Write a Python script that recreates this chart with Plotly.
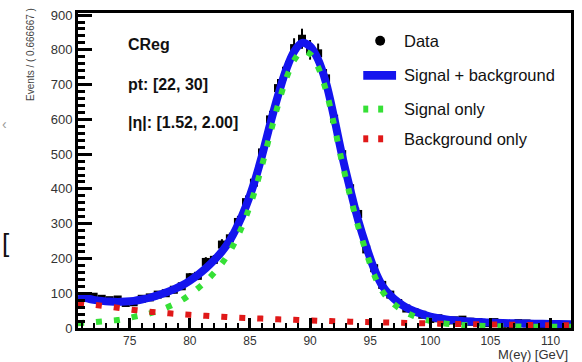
import numpy as np
import plotly.graph_objects as go

# ---- data (bin centres, 0.666667 GeV bins) ----
mass = [71.33, 72.00, 72.67, 73.33, 74.00, 74.67, 75.33, 76.00, 76.67, 77.33,
        78.00, 78.67, 79.33, 80.00, 80.67, 81.33, 82.00, 82.67, 83.33, 84.00,
        84.67, 85.33, 86.00, 86.67, 87.33, 88.00, 88.67, 89.33, 90.00, 90.67,
        91.33, 92.00, 92.67, 93.33, 94.00, 94.67, 95.33, 96.00, 96.67, 97.33,
        98.00, 98.67, 99.33, 100.00, 100.67, 101.33, 102.00, 102.67, 103.33, 104.00,
        104.67, 105.33, 106.00, 106.67, 107.33, 108.00, 108.67, 109.33, 110.00, 110.67]
events = [92, 90, 84, 80, 82, 72, 74, 84, 88, 96,
          100, 110, 120, 146, 150, 190, 196, 240, 258, 305,
          362, 418, 505, 600, 690, 740, 805, 832, 800, 790,
          718, 602, 500, 402, 328, 226, 172, 124, 96, 72,
          56, 46, 38, 26, 28, 21, 22, 24, 18, 17,
          14, 17, 12, 11, 14, 13, 9, 11, 10, 8]

# ---- fitted curves ----
fit_mass = [70.7] + mass + [111.7]
sig_plus_bkg = [88, 86, 81, 78, 76, 75, 76, 78, 82, 87, 94,
                102, 111, 122, 136, 153, 172, 194, 220, 252, 296,
                350, 415, 495, 585, 668, 742, 795, 820, 810, 772,
                705, 605, 495, 400, 310, 235, 170, 122, 94, 74,
                59, 48, 40, 33, 28, 24.5, 22, 20, 18.5, 17,
                16, 15.2, 14.5, 13.9, 13.3, 12.8, 12.4, 12, 11.6, 11.3, 11]
sig_only = [14, 15, 17, 19, 21, 23, 27, 32, 37, 42, 49,
            58, 68, 80, 96, 114, 134, 158, 186, 220, 265,
            320, 386, 467, 557, 641, 716, 770, 796, 788, 750,
            683, 584, 475, 381, 292, 218, 153, 106, 78, 59,
            44, 34, 26, 20, 15.5, 12.5, 10, 8.5, 7.5, 6.5,
            5.8, 5.2, 4.8, 4.5, 4.2, 4, 3.8, 3.6, 3.5, 3.4, 3.3]
bkg_only = [72, 70, 67, 64, 61, 58, 55, 52, 49.5, 47, 45,
            43, 41, 39.5, 38, 36.5, 35, 33.5, 32.5, 31, 30,
            29, 28, 27, 26, 25, 24.5, 23.5, 22.5, 22, 21,
            20.5, 19.5, 19, 18, 17.5, 17, 16.5, 16, 15.5, 15,
            14.5, 14, 13.5, 13, 12.5, 12, 11.7, 11.3, 11, 10.6,
            10.3, 10, 9.7, 9.4, 9.1, 8.8, 8.6, 8.3, 8.1, 7.9, 7.6]

labels = ["CReg", "pt: [22, 30]", "|η|: [1.52, 2.00]"]
legend_names = ["Data", "Signal + background", "Signal only", "Background only"]

BLUE = "#1414ee"
GREEN = "#36e036"
RED = "#e01818"
FONT = "Liberation Sans, Arial, sans-serif"

W, H = 582, 362
L, R, T, B = 78, 8, 10, 34
pw, ph = W - L - R, H - T - B


def px(xp):
    return (xp - L) / pw


def py(yp):
    return (H - B - yp) / ph


fig = go.Figure()
fig.add_trace(go.Scatter(
    x=mass, y=events, mode="markers",
    marker=dict(symbol="square", size=8, color="black"),
    error_y=dict(type="data", array=np.sqrt(events), thickness=2, width=0, color="black"),
    showlegend=False))
fig.add_trace(go.Scatter(x=fit_mass, y=sig_plus_bkg, mode="lines", line_shape="spline",
                         line=dict(color=BLUE, width=8), showlegend=False))
fig.add_trace(go.Scatter(x=fit_mass, y=sig_only, mode="lines", line_shape="spline",
                         line=dict(color=GREEN, width=6, dash="6px,12px"), showlegend=False))
fig.add_trace(go.Scatter(x=fit_mass, y=bkg_only, mode="lines", line_shape="spline",
                         line=dict(color=RED, width=6, dash="6px,12px"), showlegend=False))

annotations = []
shapes = []
# region labels
for txt, yc in zip(labels, [42, 82, 121]):
    annotations.append(dict(text="<b>%s</b>" % txt, xref="paper", yref="paper",
                            x=px(126), y=py(yc), xanchor="left", yanchor="middle",
                            showarrow=False, font=dict(family=FONT, size=16, color="#111")))
# legend
leg_y = [38, 73, 107, 137]
for name, yc in zip(legend_names, leg_y):
    annotations.append(dict(text=name, xref="paper", yref="paper",
                            x=px(404), y=py(yc), xanchor="left", yanchor="middle",
                            showarrow=False, font=dict(family=FONT, size=16.5, color="#111")))
shapes.append(dict(type="circle", xref="paper", yref="paper",
                   x0=px(377), x1=px(387), y0=py(leg_y[0] + 5), y1=py(leg_y[0] - 5),
                   fillcolor="black", line=dict(width=0)))
shapes.append(dict(type="rect", xref="paper", yref="paper",
                   x0=px(365), x1=px(398), y0=py(leg_y[1] + 4.5), y1=py(leg_y[1] - 4.5),
                   fillcolor=BLUE, line=dict(width=0)))
for col, yc in [(GREEN, leg_y[2]), (RED, leg_y[3])]:
    for x0 in (365, 380):
        shapes.append(dict(type="rect", xref="paper", yref="paper",
                           x0=px(x0), x1=px(x0 + 5), y0=py(yc + 3.5), y1=py(yc - 3.5),
                           fillcolor=col, line=dict(width=0)))

# axis titles
annotations.append(dict(text="M(eγ) [GeV]", xref="paper", yref="paper",
                        x=px(573), y=py(355), xanchor="right", yanchor="middle",
                        showarrow=False, font=dict(family=FONT, size=13, color="#333")))
annotations.append(dict(text="Events / ( 0.666667 )", xref="paper", yref="paper",
                        x=px(30), y=py(52), xanchor="center", yanchor="middle", textangle=-90,
                        showarrow=False, font=dict(family=FONT, size=10, color="#444")))
# cropped-edge remnants on the far left
annotations.append(dict(text="[", xref="paper", yref="paper", x=px(0), y=py(242),
                        xanchor="left", yanchor="middle", showarrow=False,
                        font=dict(family=FONT, size=26, color="#111")))
annotations.append(dict(text="‹", xref="paper", yref="paper", x=px(0), y=py(122),
                        xanchor="left", yanchor="middle", showarrow=False,
                        font=dict(family=FONT, size=14, color="#999")))

fig.update_layout(
    width=W, height=H, margin=dict(l=L, r=R, t=T, b=B),
    paper_bgcolor="white", plot_bgcolor="white",
    showlegend=False, annotations=annotations, shapes=shapes,
    font=dict(family=FONT),
)
fig.update_xaxes(range=[70.7, 111.7], dtick=5, tick0=75, showgrid=False, zeroline=False,
                 showline=True, linewidth=3, linecolor="black", mirror=True,
                 ticks="inside", ticklen=10, tickwidth=3, tickcolor="black",
                 minor=dict(ticks="inside", ticklen=5, tickwidth=2, dtick=1, tickcolor="black"),
                 tickfont=dict(family=FONT, size=12, color="#333"))
fig.update_yaxes(range=[0, 906], dtick=100, showgrid=False, zeroline=False,
                 showline=True, linewidth=3, linecolor="black", mirror=True,
                 ticks="inside", ticklen=14, tickwidth=3, tickcolor="black",
                 minor=dict(ticks="inside", ticklen=7, tickwidth=3, dtick=20, tickcolor="black"),
                 tickfont=dict(family=FONT, size=13, color="#333"))

fig.write_html("out.html")
